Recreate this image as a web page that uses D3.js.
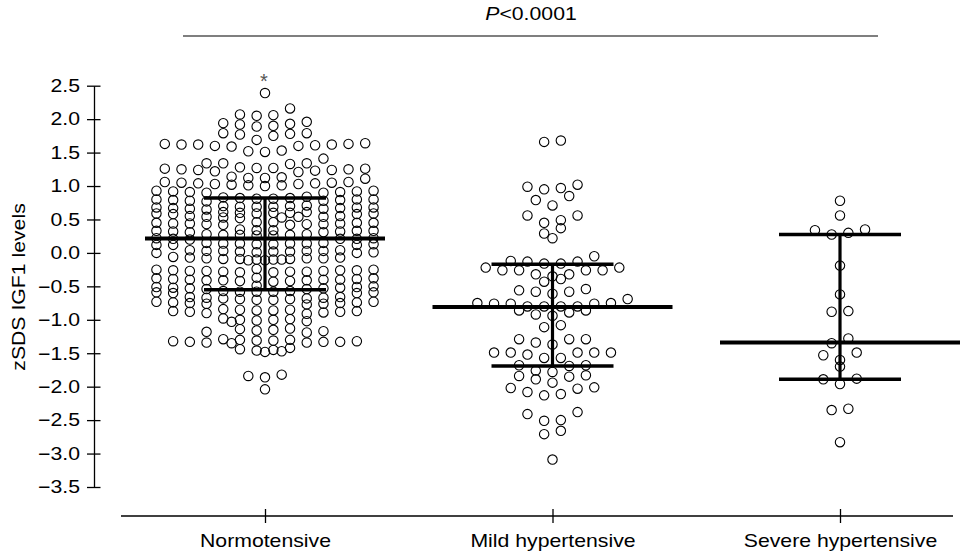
<!DOCTYPE html>
<html>
<head>
<meta charset="utf-8">
<script src="https://cdn.jsdelivr.net/npm/d3@7"></script>
<style>
  body { margin: 0; background: #fff; }
  svg { display: block; font-family: "Liberation Sans", Arial, sans-serif; }
</style>
</head>
<body>
<div id="chart"></div>
<script>
// categories on the x axis
const GROUPS = ["Normotensive", "Mild hypertensive", "Severe hypertensive"];

// zSDS IGF1 values, per group
const NORMO = [2.39, 2.16, 2.07, 2.06, 2.05,
  1.96, 1.94, 1.93, 1.92, 1.90, 1.89, 1.79, 1.79, 1.78, 1.77, 1.75, 1.69,
  1.64, 1.63, 1.63, 1.62, 1.62, 1.62, 1.61, 1.60, 1.60, 1.59, 1.53, 1.52, 1.51, 1.41,
  1.34, 1.34, 1.34, 1.33, 1.28, 1.27, 1.27, 1.26, 1.26, 1.25, 1.25, 1.24, 1.24, 1.23, 1.22, 1.21,
  1.14, 1.13, 1.12, 1.12, 1.11, 1.06, 1.06, 1.05, 1.05, 1.04, 1.04, 1.03, 1.03, 1.02, 1.01, 1.01, 1.00,
  0.93, 0.93, 0.92, 0.92, 0.91, 0.91, 0.90, 0.90,
  0.84, 0.83, 0.82, 0.82, 0.81, 0.81, 0.80, 0.80, 0.80, 0.79, 0.79, 0.78, 0.78, 0.77,
  0.71, 0.70, 0.70, 0.69, 0.69, 0.69, 0.68, 0.68, 0.68, 0.67, 0.67, 0.66, 0.66, 0.65,
  0.61, 0.61, 0.60, 0.60, 0.60, 0.59, 0.59, 0.59, 0.58, 0.58, 0.55, 0.55, 0.54, 0.54, 0.54, 0.53, 0.53, 0.52,
  0.46, 0.46, 0.45, 0.45, 0.45, 0.44, 0.44, 0.44, 0.43, 0.43, 0.43, 0.42, 0.42,
  0.35, 0.34, 0.34, 0.33, 0.33, 0.33, 0.32, 0.32, 0.31, 0.31, 0.28, 0.28, 0.27, 0.27, 0.27, 0.26, 0.26,
  0.22, 0.22, 0.21, 0.21, 0.21, 0.20,
  0.15, 0.15, 0.14, 0.14, 0.14, 0.14, 0.13, 0.13, 0.13, 0.12, 0.12, 0.12,
  0.04, 0.04, 0.03, 0.03, 0.03, 0.03, 0.02, 0.02, 0.02, 0.01, 0.01, 0.00, 0.00,
  -0.06, -0.07, -0.07, -0.08, -0.08, -0.08, -0.09, -0.09, -0.09, -0.10, -0.10, -0.10, -0.11, -0.11,
  -0.24, -0.25, -0.25, -0.26, -0.26, -0.26, -0.27, -0.27, -0.27, -0.28, -0.28, -0.28, -0.29, -0.29,
  -0.37, -0.38, -0.38, -0.39, -0.39, -0.40, -0.40, -0.40, -0.41, -0.41, -0.41, -0.42, -0.42, -0.43,
  -0.49, -0.50, -0.51, -0.51, -0.52, -0.52, -0.53, -0.53, -0.54, -0.54,
  -0.57, -0.57, -0.58, -0.58, -0.58, -0.59, -0.59, -0.60, -0.60,
  -0.66, -0.66, -0.67, -0.67, -0.68, -0.68, -0.69, -0.69, -0.70, -0.70,
  -0.73, -0.73, -0.74, -0.74, -0.75, -0.75, -0.76, -0.76, -0.77,
  -0.84, -0.85, -0.85, -0.86, -0.86, -0.87, -0.87, -0.88, -0.88, -0.89, -0.90, -0.91,
  -0.98, -0.99, -1.00, -1.00, -1.01, -1.02, -1.03,
  -1.13, -1.14, -1.15, -1.16, -1.17, -1.18, -1.19,
  -1.29, -1.30, -1.30, -1.31, -1.31, -1.32, -1.32, -1.33, -1.33, -1.33, -1.34, -1.34, -1.35,
  -1.42, -1.44, -1.45, -1.46, -1.47, -1.48,
  -1.82, -1.84, -1.86, -2.04];

const MILD = [1.68, 1.66, 1.02, 0.99, 0.97, 0.95, 0.85, 0.79, 0.71,
  0.56, 0.56, 0.49, 0.45, 0.37, 0.29, 0.22,
  -0.05, -0.12, -0.13, -0.13, -0.16, -0.16, -0.22, -0.22, -0.26, -0.26, -0.26, -0.26,
  -0.32, -0.32, -0.35, -0.39, -0.43, -0.54, -0.56, -0.58, -0.58, -0.61, -0.69,
  -0.75, -0.75, -0.76, -0.76, -0.76, -0.80, -0.80, -0.80, -0.80,
  -0.86, -0.86, -0.89, -0.92, -0.94, -1.08, -1.11,
  -1.29, -1.29, -1.29, -1.34, -1.37,
  -1.49, -1.49, -1.49, -1.49, -1.49, -1.52, -1.57, -1.57,
  -1.68, -1.68, -1.69, -1.76, -1.78, -1.83, -1.84, -1.85, -1.89,
  -1.94, -2.01, -2.02, -2.03, -2.08, -2.11, -2.13,
  -2.38, -2.41, -2.50, -2.51, -2.66, -2.71, -3.09];

const SEVERE = [0.78, 0.56, 0.35, 0.34, 0.30, 0.275, -0.19, -0.62, -0.87, -0.88,
  -1.28, -1.35, -1.49, -1.53, -1.60, -1.70, -1.88, -1.89, -1.96, -2.33, -2.35, -2.83];

// median and interquartile range per group
const MEDIANS = [0.215, -0.81, -1.34];
const Q3 = [0.82, -0.17, 0.275];
const Q1 = [-0.55, -1.69, -1.89];

const Y_TICKS = [-3.5, -3.0, -2.5, -2.0, -1.5, -1.0, -0.5, 0.0, 0.5, 1.0, 1.5, 2.0, 2.5];
const Y_LABEL = "zSDS IGF1 levels";
const P_TEXT = "<0.0001";

// canvas
const WIDTH = 971;
const HEIGHT = 551;
const FONT = 18;
const STRETCH = 1.18;      // glyphs in the picture are a little wide
const COL = 16.7;          // spacing of the dot columns
const ROW_SPAN = 0.15;     // a row never covers more than this
const MAX_ROW = 14;
const DY = 5;              // dots closer than this (px) may not share a slot

const SVG = d3.select("#chart")
              .append("svg")
                .attr("width", WIDTH)
                .attr("height", HEIGHT);

const X_SCALE = d3.scalePoint()
                    .domain(GROUPS)
                    .range([265, 840]);

const Y_SCALE = d3.scaleLinear()
                    .domain([-3.5, 2.5])
                    .range([487, 85.7]);

// put values into rows, spread each row round the group centre
// (lowest dot in the middle) and shift a dot if its slot is taken close by
function layoutRows(values, cx) {
  const sorted = values.slice().sort((a, b) => b - a);
  const rows = [];
  let row = [];
  sorted.forEach((v) => {
    if (row.length && (row[0] - v > ROW_SPAN - 1e-9 || row.length >= MAX_ROW)) {
      rows.push(row);
      row = [];
    }
    row.push(v);
  });
  if (row.length) rows.push(row);

  const placed = [];
  const slots = d3.range(-16, 16.5, 0.5);
  rows.forEach((r) => {
    const n = r.length;
    const ideal = d3.range(n).map((i) => i - (n - 1) / 2)
                    .sort((a, b) => (Math.abs(a) - Math.abs(b)) || (a - b));
    r.slice().reverse().forEach((v, i) => {
      const y = Y_SCALE(v);
      const cands = slots.slice().sort((a, b) =>
          (Math.abs(a - ideal[i]) - Math.abs(b - ideal[i])) || (Math.abs(a) - Math.abs(b)));
      const s = cands.find((c) => !placed.some((p) =>
          Math.abs(p.s - c) < 0.4 && Math.abs(p.y - y) < DY));
      placed.push({v: v, s: s, y: y, x: cx + s * COL});
    });
  });
  return placed;
}

const ALL = [NORMO, MILD, SEVERE];

// dots
ALL.forEach((vals, gi) => {
  const pts = layoutRows(vals, X_SCALE(GROUPS[gi]));
  SVG.append("g")
      .selectAll("circle")
      .data(pts)
      .enter()
      .append("circle")
        .attr("cx", (d) => d.x)
        .attr("cy", (d) => Y_SCALE(d.v))
        .attr("r", 4.7)
        .attr("fill", "none")
        .attr("stroke", "#000")
        .attr("stroke-width", 1.1);
});

// median and quartile bars
const STATS = SVG.append("g").attr("stroke", "#000");
GROUPS.forEach((g, i) => {
  const cx = X_SCALE(g);
  STATS.append("line")
        .attr("x1", cx).attr("x2", cx)
        .attr("y1", Y_SCALE(Q3[i])).attr("y2", Y_SCALE(Q1[i]))
        .attr("stroke-width", 3.2);
  STATS.append("line")
        .attr("x1", cx - 120).attr("x2", cx + 120)
        .attr("y1", Y_SCALE(MEDIANS[i])).attr("y2", Y_SCALE(MEDIANS[i]))
        .attr("stroke-width", 4);
  [Q3[i], Q1[i]].forEach((q) => {
    STATS.append("line")
          .attr("x1", cx - 61).attr("x2", cx + 61)
          .attr("y1", Y_SCALE(q)).attr("y2", Y_SCALE(q))
          .attr("stroke-width", 3.6);
  });
});

// asterisk above the top normotensive point
SVG.append("text")
    .attr("x", X_SCALE(GROUPS[0]) - 1)
    .attr("y", Y_SCALE(d3.max(NORMO)) - 5)
    .attr("text-anchor", "middle")
    .attr("font-size", 20)
    .attr("fill", "#555")
    .text("*");

// y axis
const Y_AXIS = SVG.append("g")
                  .attr("transform", "translate(94,0)")
                  .call(d3.axisLeft(Y_SCALE)
                          .tickValues(Y_TICKS)
                          .tickFormat(d3.format(".1f"))
                          .tickSize(7)
                          .tickSizeOuter(0));
Y_AXIS.select(".domain").attr("stroke-width", 1.3);
Y_AXIS.selectAll(".tick line").attr("x1", 6.5).attr("stroke-width", 1.3);
Y_AXIS.selectAll(".tick text")
      .attr("x", null)
      .attr("font-size", FONT)
      .attr("font-family", "Liberation Sans, Arial, sans-serif")
      .attr("fill", "#000")
      .attr("transform", "translate(-14,0) scale(" + STRETCH + ",1)");

SVG.append("text")
    .attr("transform", "translate(25,287) rotate(-90) scale(" + STRETCH + ",1)")
    .attr("text-anchor", "middle")
    .attr("font-size", FONT)
    .text(Y_LABEL);

// x axis
const X_AXIS = SVG.append("g")
                  .attr("transform", "translate(0,516)")
                  .call(d3.axisBottom(X_SCALE).tickSize(7).tickSizeOuter(0));
X_AXIS.select(".domain").remove();
X_AXIS.append("line")
      .attr("x1", 121).attr("x2", 953)
      .attr("stroke", "#000")
      .attr("stroke-width", 1.3);
X_AXIS.selectAll(".tick line").attr("y1", -7).attr("stroke-width", 1.3);
X_AXIS.selectAll(".tick text")
      .attr("y", null)
      .attr("dy", null)
      .attr("font-size", FONT)
      .attr("font-family", "Liberation Sans, Arial, sans-serif")
      .attr("fill", "#000")
      .attr("transform", "translate(0,30.7) scale(" + STRETCH + ",1)");

// p value bracket on top
const P = SVG.append("text")
              .attr("transform", "translate(531,20) scale(" + STRETCH + ",1)")
              .attr("text-anchor", "middle")
              .attr("font-size", FONT);
P.append("tspan").attr("font-style", "italic").text("P");
P.append("tspan").text(P_TEXT);

SVG.append("line")
    .attr("x1", 183).attr("x2", 878)
    .attr("y1", 36).attr("y2", 36)
    .attr("stroke", "#000")
    .attr("stroke-width", 1.2);
</script>
</body>
</html>
